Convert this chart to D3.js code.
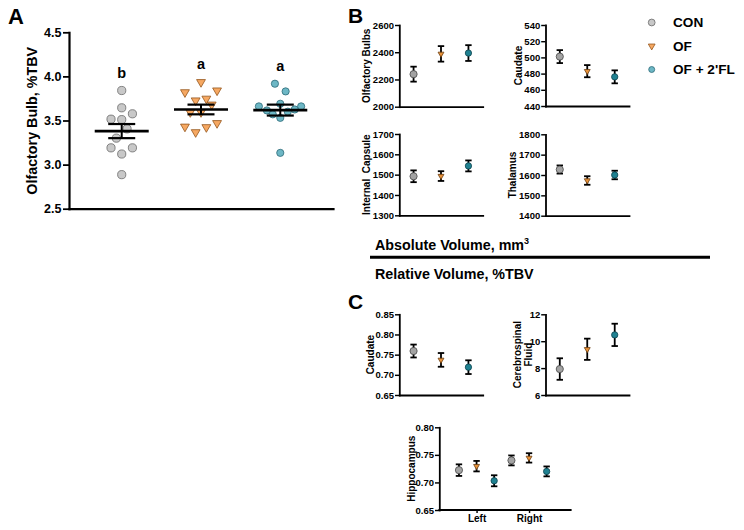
<!DOCTYPE html>
<html><head><meta charset="utf-8">
<script src="https://cdn.jsdelivr.net/npm/d3@7"></script>
<style>
body{margin:0;background:#fff;}
svg{display:block;font-family:"Liberation Sans",Arial,sans-serif;font-weight:bold;}
</style></head><body>
<svg id="chart" width="744" height="530"></svg>
<script>
// ---------- DATA ----------
const groups = ["CON", "OF", "OF + 2'FL"];

// Panel A: olfactory bulb, %TBV (individual animals)
const conOB = [3.84, 3.644, 3.576, 3.515, 3.51, 3.405, 3.30, 3.19, 3.12, 3.19, 2.886];
const conSlot = [0, 0, 2, -2, 0, 1, -1, -2, 0, 2, 0];
const ofOB = [3.935, 3.82, 3.84, 3.727, 3.747, 3.68, 3.594, 3.594, 3.43, 3.367, 3.424, 3.47];
const ofSlot = [0, -3, 3, -1, 1, 2, -2, 0, -3, -1, 1, 3];
const flOB = [3.917, 3.83, 3.66, 3.69, 3.66, 3.614, 3.625, 3.57, 3.60, 3.53, 3.133];
const flSlot = [-1, 1, -4, 0, 3.9, -2.5, 2.7, -1.4, 1.4, 0, 0];
const obMeanA = [3.38, 3.625, 3.618];
const obSemA = [0.08, 0.055, 0.062];
const sigLetters = ["b", "a", "a"];
const obTicksA = [2.5, 3.0, 3.5, 4.0, 4.5];

// Panel B: absolute volume, mm3 (mean, SEM)
const obAbsMean = [2239, 2388, 2394];
const obAbsSem = [55, 57, 58];
const obAbsTicks = [2000, 2200, 2400, 2600];
const caudAbsMean = [501, 483, 476];
const caudAbsSem = [8, 7.5, 8];
const caudAbsTicks = [440, 460, 480, 500, 520, 540];
const icAbsMean = [1492, 1493, 1543];
const icAbsSem = [29, 24, 27];
const icAbsTicks = [1300, 1400, 1500, 1600, 1700];
const thAbsMean = [1627, 1573, 1600];
const thAbsSem = [20, 21, 21];
const thAbsTicks = [1400, 1500, 1600, 1700, 1800];

// Panel C: relative volume, %TBV (mean, SEM)
const caudRelMean = [0.759, 0.737, 0.719];
const caudRelSem = [0.016, 0.017, 0.017];
const caudRelTicks = [0.65, 0.70, 0.75, 0.80, 0.85];
const csfRelMean = [7.93, 9.40, 10.47];
const csfRelSem = [0.80, 0.79, 0.83];
const csfRelTicks = [6, 8, 10, 12];
const sides = ["Left", "Right"];
const hippoCon = [0.7223, 0.7399];
const hippoOf = [0.7295, 0.7445];
const hippoFl = [0.703, 0.720];
const hippoConSem = [0.0105, 0.009];
const hippoOfSem = [0.0095, 0.0085];
const hippoFlSem = [0.010, 0.009];
const hippoTicks = [0.65, 0.70, 0.75, 0.80];

// ---------- STYLE ----------
const palA = {
  "CON": {fill: "#c8c8c8", stroke: "#6a6a6a"},
  "OF": {fill: "#f6a862", stroke: "#94561c"},
  "OF + 2'FL": {fill: "#6db7c5", stroke: "#2d6b78"}
};
const palB = {
  "CON": {fill: "#a3a3a3", stroke: "#474747"},
  "OF": {fill: "#e8923a", stroke: "#6b3d10"},
  "OF + 2'FL": {fill: "#1f8191", stroke: "#0c434c"}
};
const FONT = '"Liberation Sans", Arial, sans-serif';
const svg = d3.select("#chart");

function styleAxis(g, fs, w) {
  g.attr("font-family", FONT).attr("font-size", fs).attr("font-weight", "bold");
  g.select(".domain").attr("stroke", "#000").attr("stroke-width", w).attr("stroke-linecap", "square");
  g.selectAll(".tick line").attr("stroke", "#000").attr("stroke-width", w * 0.8);
  g.selectAll(".tick text").attr("fill", "#000");
}

function marker(g, grp, x, y, pal, r, triArea) {
  if (grp === "OF") {
    g.append("path")
      .attr("d", d3.symbol(d3.symbolTriangle, triArea)())
      .attr("transform", `translate(${x},${y}) rotate(180)`)
      .attr("fill", pal[grp].fill).attr("stroke", pal[grp].stroke).attr("stroke-width", 0.8);
  } else {
    g.append("circle").attr("cx", x).attr("cy", y).attr("r", grp === "CON" ? r : r * 0.88)
      .attr("fill", pal[grp].fill).attr("stroke", pal[grp].stroke).attr("stroke-width", 0.8);
  }
}

function rotLabel(x, yc, text, fs) {
  svg.append("text").attr("transform", `translate(${x},${yc}) rotate(-90)`)
    .attr("text-anchor", "middle").attr("dy", "0.36em")
    .attr("font-size", fs).attr("font-weight", "bold").attr("fill", "#000")
    .style("white-space", "pre").text(text);
}

// ---------- PANEL A ----------
const xA = d3.scalePoint().domain(groups).range([69, 333]).padding(0.665);
const yA = d3.scaleLinear().domain([2.5, 4.5]).range([208.7, 32.3]);
const gA = svg.append("g");
const slotW = 5.35;
const aSets = [[conOB, conSlot], [ofOB, ofSlot], [flOB, flSlot]];
aSets.forEach(([vals, slots], i) => {
  const grp = groups[i];
  vals.forEach((v, j) => marker(gA, grp, xA(grp) + slots[j] * slotW, yA(v), palA, 4.1, 34));
});
groups.forEach((grp, i) => {
  const cx = xA(grp), m = obMeanA[i], s = obSemA[i];
  gA.append("line").attr("x1", cx - 27).attr("x2", cx + 27).attr("y1", yA(m)).attr("y2", yA(m))
    .attr("stroke", "#000").attr("stroke-width", 2.6);
  gA.append("line").attr("x1", cx).attr("x2", cx).attr("y1", yA(m - s)).attr("y2", yA(m + s))
    .attr("stroke", "#000").attr("stroke-width", 2);
  [m - s, m + s].forEach(v => gA.append("line").attr("x1", cx - 13.5).attr("x2", cx + 13.5)
    .attr("y1", yA(v)).attr("y2", yA(v)).attr("stroke", "#000").attr("stroke-width", 2.2));
  const top = d3.max(aSets[i][0]);
  gA.append("text").attr("x", cx).attr("y", yA(top) - 12.8).attr("text-anchor", "middle")
    .attr("font-size", 14.5).attr("font-weight", "bold").text(sigLetters[i]);
});
gA.append("g").attr("transform", "translate(69,0)")
  .call(d3.axisLeft(yA).tickValues(obTicksA).tickFormat(d3.format(".1f")).tickSize(6).tickSizeOuter(0).tickPadding(1.5))
  .call(g => styleAxis(g, 12.5, 2.2));
gA.append("g").attr("transform", "translate(0,208.7)")
  .call(d3.axisBottom(xA).tickValues([]).tickSizeOuter(0))
  .call(g => styleAxis(g, 12, 2.2));
rotLabel(31.5, 120.8, "Olfactory Bulb, %TBV", 14.3);
svg.append("text").attr("x", 8).attr("y", 24).attr("font-size", 22).attr("font-weight", "bold").text("A");

// ---------- SMALL PANELS ----------
function smallPanel(o) {
  const g = svg.append("g");
  const x = d3.scalePoint().domain(groups).range([o.x0, o.x1]).padding(0.52);
  const y = d3.scaleLinear().domain(o.domain).range([o.yb, o.yt]);
  g.append("g").attr("transform", `translate(${o.x0},0)`)
    .call(d3.axisLeft(y).tickValues(o.ticks).tickFormat(d3.format(o.fmt)).tickSize(4.3).tickSizeOuter(0).tickPadding(1))
    .call(a => styleAxis(a, 9.5, 1.8));
  g.append("g").attr("transform", `translate(0,${o.yb})`)
    .call(d3.axisBottom(x).tickValues([]).tickSizeOuter(0))
    .call(a => styleAxis(a, 9.5, 1.8));
  groups.forEach((grp, i) => {
    const cx = x(grp), m = o.means[i], s = o.sems[i];
    g.append("line").attr("x1", cx).attr("x2", cx).attr("y1", y(m - s)).attr("y2", y(m + s))
      .attr("stroke", "#000").attr("stroke-width", 1.8);
    [m - s, m + s].forEach(v => g.append("line").attr("x1", cx - 3.2).attr("x2", cx + 3.2)
      .attr("y1", y(v)).attr("y2", y(v)).attr("stroke", "#000").attr("stroke-width", 1.8));
    marker(g, grp, cx, y(m), palB, 3.6, 15);
  });
  const yc = (o.yb + o.yt) / 2;
  o.label.forEach((t, k) => rotLabel(o.lx[k], yc, t, 10));
}

smallPanel({x0: 399.3, x1: 482.7, yb: 106.7, yt: 25, domain: [2000, 2600], ticks: obAbsTicks, fmt: "d",
  means: obAbsMean, sems: obAbsSem, label: ["Olfactory Bulbs"], lx: [366]});
smallPanel({x0: 545.5, x1: 629, yb: 106, yt: 25, domain: [440, 540], ticks: caudAbsTicks, fmt: "d",
  means: caudAbsMean, sems: caudAbsSem, label: ["Caudate"], lx: [518.5]});
smallPanel({x0: 399.3, x1: 482.7, yb: 215.3, yt: 134, domain: [1300, 1700], ticks: icAbsTicks, fmt: "d",
  means: icAbsMean, sems: icAbsSem, label: ["Internal  Capsule"], lx: [366]});
smallPanel({x0: 545.5, x1: 629, yb: 215.7, yt: 134.3, domain: [1400, 1800], ticks: thAbsTicks, fmt: "d",
  means: thAbsMean, sems: thAbsSem, label: ["Thalamus"], lx: [512]});
smallPanel({x0: 399.3, x1: 482.7, yb: 395, yt: 314.3, domain: [0.65, 0.85], ticks: caudRelTicks, fmt: ".2f",
  means: caudRelMean, sems: caudRelSem, label: ["Caudate"], lx: [370]});
smallPanel({x0: 545.5, x1: 629, yb: 395, yt: 314.3, domain: [6, 12], ticks: csfRelTicks, fmt: "d",
  means: csfRelMean, sems: csfRelSem, label: ["Cerebrospinal", "Fluid"], lx: [517.7, 528.5]});

// Hippocampus (Left / Right)
(function () {
  const g = svg.append("g");
  const x0 = 439.3;
  const xs = d3.scalePoint().domain(sides).range([x0, x0 + 127]).padding(0.71);
  const xi = d3.scalePoint().domain(groups).range([-17.6, 17.6]);
  const y = d3.scaleLinear().domain([0.65, 0.80]).range([510, 427.3]);
  g.append("g").attr("transform", `translate(${x0},0)`)
    .call(d3.axisLeft(y).tickValues(hippoTicks).tickFormat(d3.format(".2f")).tickSize(4.3).tickSizeOuter(0).tickPadding(1))
    .call(a => styleAxis(a, 9.5, 1.8));
  g.append("g").attr("transform", "translate(0,510)")
    .call(d3.axisBottom(xs).tickSize(3).tickSizeOuter(0).tickPadding(2))
    .call(a => { styleAxis(a, 10, 1.8); a.select(".domain").remove(); });
  g.append("line").attr("x1", x0).attr("x2", 570.7).attr("y1", 510).attr("y2", 510)
    .attr("stroke", "#000").attr("stroke-width", 1.8).attr("stroke-linecap", "square");
  const means = [hippoCon, hippoOf, hippoFl], sems = [hippoConSem, hippoOfSem, hippoFlSem];
  sides.forEach((sd, si) => {
    groups.forEach((grp, gi) => {
      const cx = xs(sd) + xi(grp), m = means[gi][si], s = sems[gi][si];
      g.append("line").attr("x1", cx).attr("x2", cx).attr("y1", y(m - s)).attr("y2", y(m + s))
        .attr("stroke", "#000").attr("stroke-width", 1.8);
      [m - s, m + s].forEach(v => g.append("line").attr("x1", cx - 3.2).attr("x2", cx + 3.2)
        .attr("y1", y(v)).attr("y2", y(v)).attr("stroke", "#000").attr("stroke-width", 1.8));
      marker(g, grp, cx, y(m), palB, 3.6, 15);
    });
  });
  rotLabel(411, 468.7, "Hippocampus", 10);
})();

// ---------- HEADINGS / SEPARATOR ----------
svg.append("text").attr("x", 348).attr("y", 23).attr("font-size", 21).attr("font-weight", "bold").text("B");
svg.append("text").attr("x", 348).attr("y", 309).attr("font-size", 21).attr("font-weight", "bold").text("C");
const absT = svg.append("text").attr("x", 375).attr("y", 250).attr("font-size", 14.3).attr("font-weight", "bold");
absT.append("tspan").text("Absolute Volume, mm");
absT.append("tspan").attr("font-size", 9).attr("dy", -6.5).text("3");
svg.append("line").attr("x1", 370).attr("x2", 710).attr("y1", 257.3).attr("y2", 257.3)
  .attr("stroke", "#000").attr("stroke-width", 3);
svg.append("text").attr("x", 375).attr("y", 279.3).attr("font-size", 14.3).attr("font-weight", "bold")
  .text("Relative Volume, %TBV");

// ---------- LEGEND ----------
const gL = svg.append("g");
groups.forEach((grp, i) => {
  const cy = 22.5 + i * 23.5;
  marker(gL, grp, 651.7, cy, palA, 3.4, 20);
  gL.append("text").attr("x", 673).attr("y", cy + 4.9).attr("font-size", 13.6).attr("font-weight", "bold").text(grp);
});
</script>
</body></html>
